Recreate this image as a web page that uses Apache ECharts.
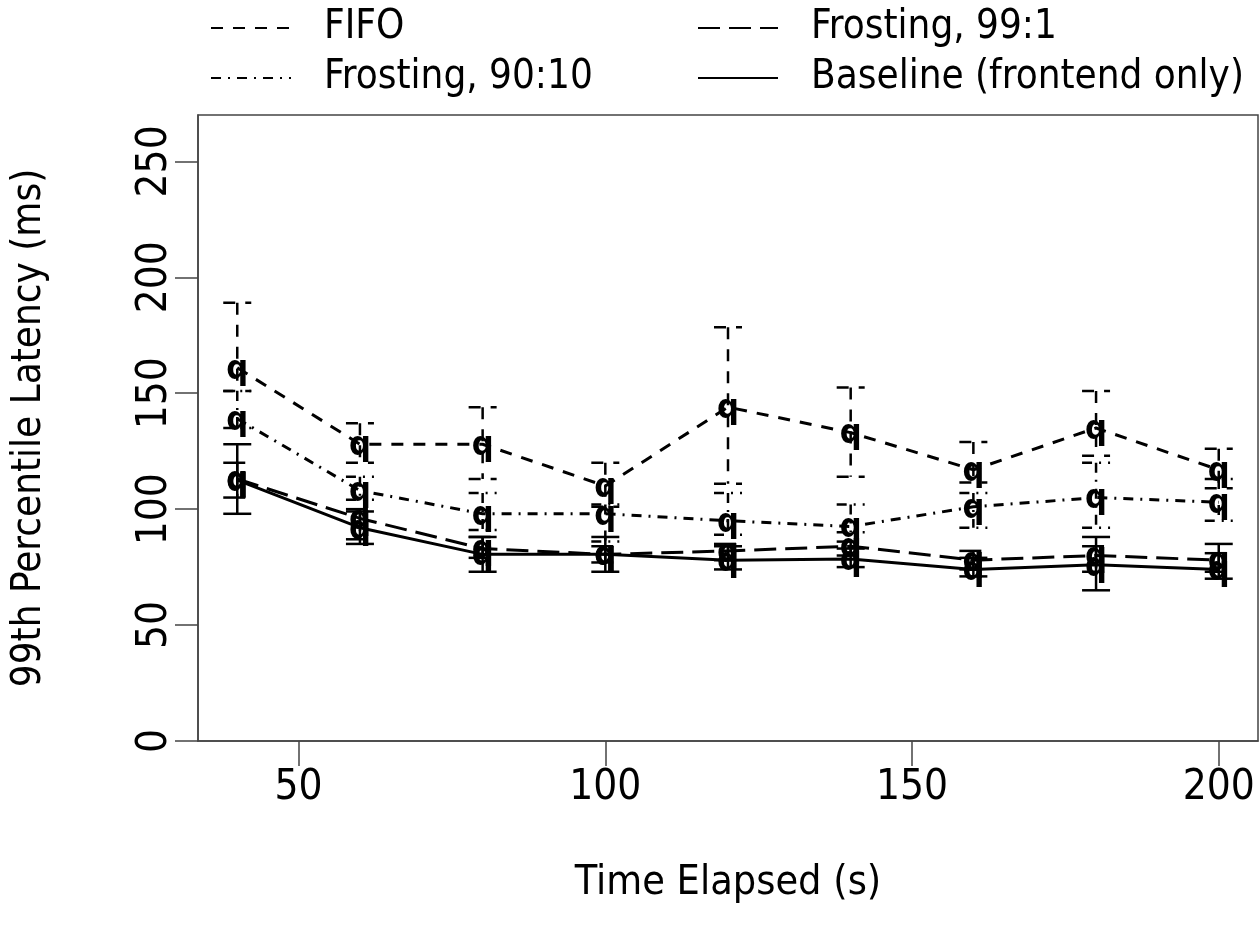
<!DOCTYPE html>
<html>
<head>
<meta charset="utf-8">
<script src="https://cdn.jsdelivr.net/npm/echarts@6/dist/echarts.min.js"></script>
<style>html,body{margin:0;padding:0;background:#fff}#c{width:1260px;height:940px}</style>
</head>
<body>
<div id="c"></div>
<script>
// ---- data ----
var times = [40, 60, 80, 100, 120, 140, 160, 180, 200];
var seriesNames = ['FIFO', 'Frosting, 99:1', 'Frosting, 90:10', 'Baseline (frontend only)'];
var fifoMean  = [161, 128, 128, 110, 144, 133, 117, 135, 117];
var fifoLow   = [151, 120, 113, 101, 111, 114, 111.5, 123, 109];
var fifoHigh  = [189, 137, 144, 120, 178.5, 152.5, 129, 151, 126];
var f9010Mean = [139, 108, 98, 98, 95, 92.5, 101, 105, 103];
var f9010Low  = [135, 104, 91, 86, 89, 90, 92, 92, 95];
var f9010High = [151, 114, 107, 102, 107, 102, 107, 120, 113];
var f991Mean  = [113, 96, 83, 80.5, 82, 84, 78, 80, 78];
var f991Low   = [105, 87, 79, 77, 78, 80, 74, 73, 73];
var f991High  = [120, 100, 88, 84, 85, 86, 82, 84, 81];
var baseMean  = [112.5, 92, 80.5, 80.5, 78, 78.5, 74, 76, 74];
var baseLow   = [98, 85, 73, 73, 74, 75, 71, 65, 70];
var baseHigh  = [128, 99, 88, 88, 84, 83, 79, 88, 85];
var xTicks = [50, 100, 150, 200];
var yTicks = [0, 50, 100, 150, 200, 250];

var FONT = '"Liberation Sans Narrow", "DejaVu Sans Condensed", sans-serif';
var dashes = {
  'FIFO': [12, 10],
  'Frosting, 99:1': [22, 9],
  'Frosting, 90:10': [10, 7, 2, 7],
  'Baseline (frontend only)': null
};
var groups = [
  {name: seriesNames[0], mean: fifoMean, low: fifoLow, high: fifoHigh},
  {name: seriesNames[1], mean: f991Mean, low: f991Low, high: f991High},
  {name: seriesNames[2], mean: f9010Mean, low: f9010Low, high: f9010High},
  {name: seriesNames[3], mean: baseMean, low: baseLow, high: baseHigh}
];

var series = [];
groups.forEach(function (g) {
  var dash = dashes[g.name];
  series.push({
    name: g.name, type: 'line', symbol: 'none', z: 3,
    data: times.map(function (t, i) { return [t, g.mean[i]]; }),
    lineStyle: {color: '#000', width: 3, type: dash ? dash : 'solid'},
    itemStyle: {color: '#000'},
    animation: false
  });
  series.push({
    name: g.name + ' err', type: 'custom', z: 4, animation: false,
    data: times.map(function (t, i) { return [t, g.low[i], g.high[i], g.mean[i]]; }),
    renderItem: function (params, api) {
      var x = api.value(0);
      var pl = api.coord([x, api.value(1)]);
      var ph = api.coord([x, api.value(2)]);
      var pm = api.coord([x, api.value(3)]);
      var cw = 14;
      var st = {stroke: '#000', lineWidth: 2.5, lineDash: dash ? dash : null, fill: null};
      return {type: 'group', children: [
        {type: 'line', shape: {x1: ph[0], y1: ph[1], x2: pl[0], y2: pl[1]}, style: st},
        {type: 'line', shape: {x1: ph[0] - cw, y1: ph[1], x2: ph[0] + cw, y2: ph[1]}, style: st},
        {type: 'line', shape: {x1: pl[0] - cw, y1: pl[1], x2: pl[0] + cw, y2: pl[1]}, style: st},
        {type: 'text', style: {text: 'q', x: pm[0], y: pm[1] + 2, align: 'center', verticalAlign: 'middle',
          font: 'bold 34px ' + FONT, fill: '#000'}}
      ]};
    }
  });
});

var chart = echarts.init(document.getElementById('c'), null, {renderer: 'canvas'});
var axisCol = '#444';
var legendCommon = {orient: 'vertical', top: 0, itemWidth: 80, itemHeight: 14, itemGap: 4,
  itemStyle: {color: 'rgba(0,0,0,0)', borderWidth: 0},
  textStyle: {fontFamily: FONT, fontSize: 40, color: '#000', lineHeight: 46, padding: [0, 0, 0, 28]}};
chart.setOption({
  backgroundColor: '#fff',
  animation: false,
  grid: {left: 198, top: 115, right: 2, bottom: 199, show: true, borderColor: axisCol, borderWidth: 1.5, backgroundColor: 'transparent'},
  legend: [
    Object.assign({data: [seriesNames[0], seriesNames[2]], left: 205}, legendCommon),
    Object.assign({data: [seriesNames[1], seriesNames[3]], left: 692}, legendCommon)
  ],
  xAxis: {
    type: 'value', min: 33.6, max: 206.4,
    name: 'Time Elapsed (s)', nameLocation: 'middle', nameGap: 122,
    nameTextStyle: {fontFamily: FONT, fontSize: 41, color: '#000'},
    axisLine: {show: true, lineStyle: {color: axisCol, width: 1.5}},
    axisTick: {show: true, length: 25, inside: false, customValues: xTicks, lineStyle: {color: axisCol, width: 1.5}},
    axisLabel: {customValues: xTicks, margin: 26, fontFamily: FONT, fontSize: 42, color: '#000'},
    splitLine: {show: false}
  },
  yAxis: {
    type: 'value', min: 0, max: 270,
    name: '99th Percentile Latency (ms)', nameLocation: 'middle', nameGap: 148, nameRotate: 90,
    nameTextStyle: {fontFamily: FONT, fontSize: 40, color: '#000'},
    axisLine: {show: true, lineStyle: {color: axisCol, width: 1.5}},
    axisTick: {show: true, length: 23, customValues: yTicks, lineStyle: {color: axisCol, width: 1.5}},
    axisLabel: {customValues: yTicks, rotate: 90, margin: 22, fontFamily: FONT, fontSize: 42, color: '#000'},
    splitLine: {show: false}
  },
  series: series
});
</script>
</body>
</html>
